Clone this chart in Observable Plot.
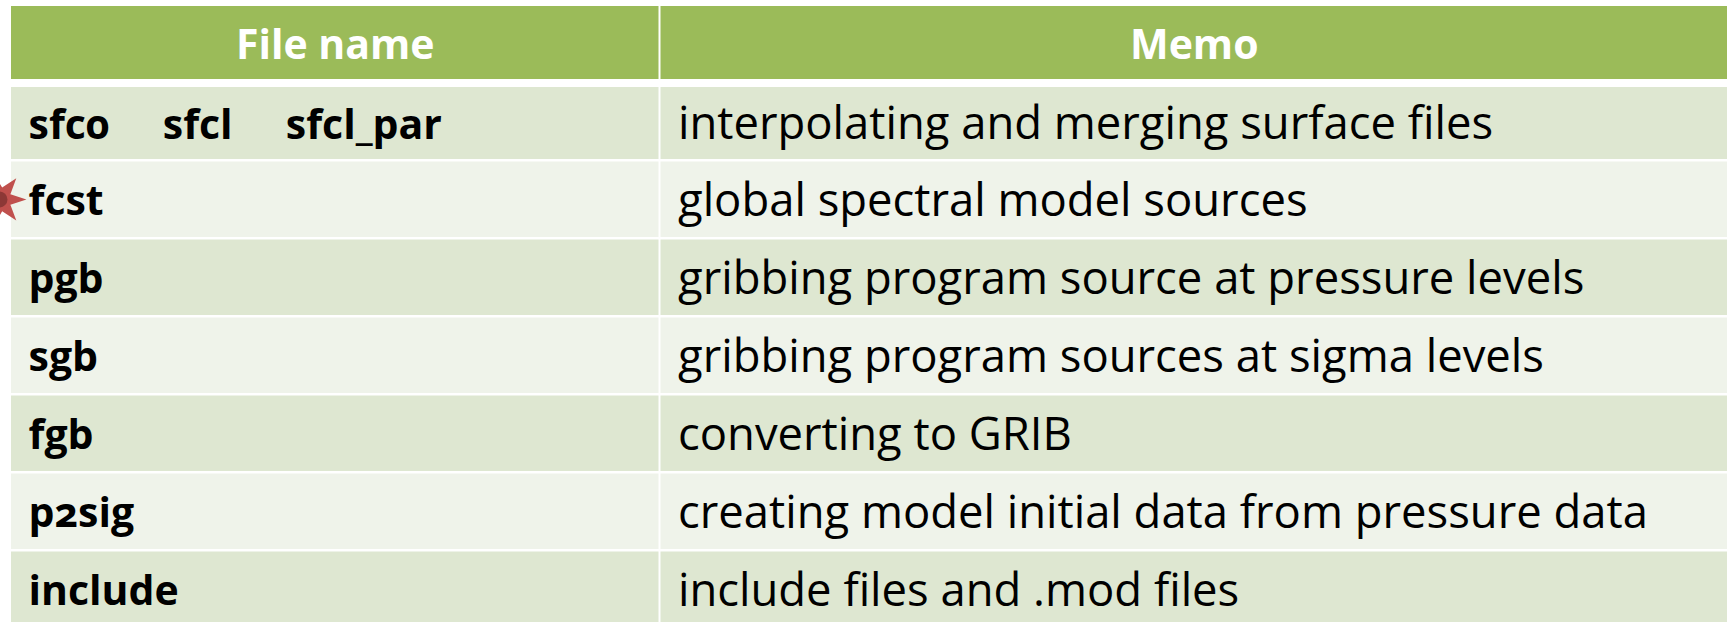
<!DOCTYPE html>
<html>
<head>
<meta charset="utf-8">
<script src="https://cdn.jsdelivr.net/npm/d3@7"></script>
<script src="https://cdn.jsdelivr.net/npm/@observablehq/plot@0.6"></script>
<style>
html,body{margin:0;padding:0;background:#fff;overflow:hidden}
svg{display:block}
text{white-space:pre;font-variant-numeric:oldstyle-nums}
</style>
</head>
<body>
<div id="chart"></div>
<script>
const headers = ["File name", "Memo"];
const fileNames = ["sfc0     sfcl     sfcl_par", "fcst", "pgb", "sgb", "fgb", "p2sig", "include"];
const memos = [
  "interpolating and merging surface files",
  "global spectral model sources",
  "gribbing program source at pressure levels",
  "gribbing program sources at sigma levels",
  "converting to GRIB",
  "creating model initial data from pressure data",
  "include files and .mod files"
];
const rowIndex = fileNames.map((_, i) => i + 1);
const font = "Open Sans";
const headerFill = "#9bbb59", bandDark = "#dee7d1", bandLight = "#eff3ea";

const starSymbol = {
  draw(ctx, size) {
    const R = Math.sqrt(size / Math.PI), r = R * 0.45, n = 7;
    for (let k = 0; k < 2 * n; k++) {
      const a = k * Math.PI / n, q = k % 2 ? r : R;
      const px = q * Math.cos(a), py = q * Math.sin(a);
      k ? ctx.lineTo(px, py) : ctx.moveTo(px, py);
    }
    ctx.closePath();
  }
};

const chart = Plot.plot({
  width: 1727, height: 622,
  margin: 0,
  style: {background: "#fff"},
  x: {type: "linear", domain: [0, 1, 2], range: [10, 659.5, 1728], axis: null},
  y: {type: "linear", domain: [0, 1, 2, 8], range: [6, 87, 161.5, 629.5], axis: null},
  marks: [
    Plot.rect(headers, {x1: (_, i) => i, x2: (_, i) => i + 1, y1: () => 0, y2: () => 1,
      fill: headerFill, insetBottom: 8, insetRight: 1, insetLeft: 1}),
    Plot.rect(rowIndex.flatMap(r => [0, 1].map(c => ({r, c}))), {
      x1: "c", x2: d => d.c + 1, y1: "r", y2: d => d.r + 1,
      fill: d => d.r % 2 ? bandDark : bandLight,
      insetBottom: 2.5, insetRight: 1, insetLeft: 1}),
    Plot.text(headers, {x: (_, i) => i + 0.5, y: () => 0.5, text: d => d, dy: -1,
      fill: "#fff", fontWeight: 700, fontSize: 41, fontFamily: font}),
    Plot.text(fileNames, {x: () => 0, y: (_, i) => i + 1.5, text: d => d, textAnchor: "start",
      dx: 18, dy: 1, fill: "#000", fontWeight: 700, fontSize: 41, fontFamily: font}),
    Plot.text(memos, {x: () => 1, y: (_, i) => i + 1.5, text: d => d, textAnchor: "start",
      dx: 18, dy: 0, fill: "#000", fontSize: 45.4, fontFamily: font}),
    Plot.dot([2.48], {x: () => -0.017, y: d => d, r: 27, symbol: starSymbol, fill: "#c0504d"}),
    Plot.dot([2.48], {x: () => -0.017, y: d => d, r: 8, fill: "#8c3836"})
  ]
});
document.getElementById("chart").append(chart);
</script>
</body>
</html>
